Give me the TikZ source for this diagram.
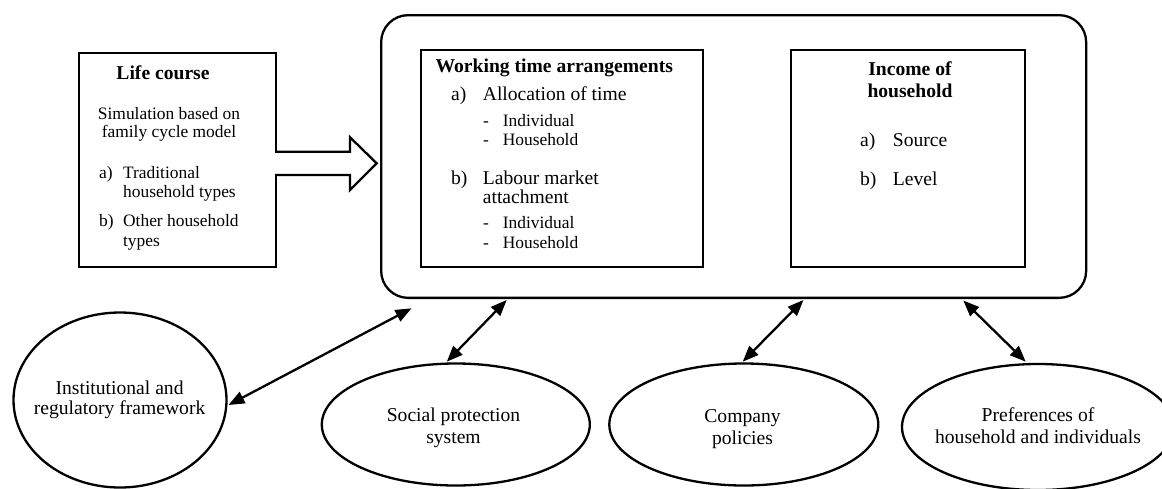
\documentclass[tikz,border=0pt]{standalone}
\usepackage{fontspec}
\setmainfont{Liberation Serif}
\usetikzlibrary{arrows.meta,shapes.geometric}
\begin{document}
\begin{tikzpicture}[x=1pt,y=-1pt,line width=2.3pt,
  big/.style={font=\fontsize{19.6}{21}\selectfont,inner sep=0pt},
  small/.style={font=\fontsize{17.4}{20.5}\selectfont,inner sep=0pt},
  head/.style={font=\fontsize{19.6}{23}\selectfont\bfseries,inner sep=0pt},
  lt/.style={anchor=base west},
  ct/.style={anchor=base},
  boxx/.style={draw,anchor=north west,inner sep=0pt},
  oval/.style={draw,ellipse,inner sep=0pt},
  dbl/.style={{Triangle[length=16pt,width=12.5pt]}-{Triangle[length=16pt,width=12.5pt]}}]
\useasboundingbox (0,0) rectangle (1162,488);

% main rounded frame
\node[boxx,rounded corners=27pt,minimum width=705pt,minimum height=282.7pt] (frame) at (380,14) {};

% life course box
\node[boxx,minimum width=197pt,minimum height=214pt] (life) at (78,52) {};
\node[head,ct] (lifeT) at (163,79) {Life course};
\node[small,ct] (lifeS1) at (169,119.3) {Simulation based on};
\node[small,ct] (lifeS2) at (169,137.9) {family cycle model};
\node[small,lt] (la) at (98,178.3) {a)};
\node[small,lt] (la1) at (122,178.3) {Traditional};
\node[small,lt] (la2) at (122,197.7) {household types};
\node[small,lt] (lb) at (98,226.7) {b)};
\node[small,lt] (lb1) at (122,226.7) {Other household};
\node[small,lt] (lb2) at (122,246.5) {types};

% block arrow
\fill[white] (273,151.7) -- (350,151.7) -- (350,137.3) -- (376.7,163.3) -- (350,190) -- (350,175) -- (273,175) -- cycle;
\draw[line join=miter] (275,151.7) -- (350,151.7) -- (350,137.3) -- (376.7,163.3) -- (350,190) -- (350,175) -- (275,175);

% working time box
\node[boxx,minimum width=282pt,minimum height=217pt] (work) at (420,49) {};
\node[head,lt] (workT) at (434.5,72.3) {Working time arrangements};
\node[big,lt] (wa) at (450,100) {a)};
\node[big,lt] (wa1) at (481.7,100) {Allocation of time};
\node[small,lt] (wd1) at (482,126.5) {-};
\node[small,lt] (wi1) at (501.7,126.5) {Individual};
\node[small,lt] (wd2) at (482,145.7) {-};
\node[small,lt] (wh1) at (501.7,145.7) {Household};
\node[big,lt] (wb) at (450,184.7) {b)};
\node[big,lt] (wb1) at (481.7,184.7) {Labour market};
\node[big,lt] (wb2) at (481.7,203) {attachment};
\node[small,lt] (wd3) at (482,228.5) {-};
\node[small,lt] (wi2) at (501.7,228.5) {Individual};
\node[small,lt] (wd4) at (482,248.2) {-};
\node[small,lt] (wh2) at (501.7,248.2) {Household};

% income box
\node[boxx,minimum width=234pt,minimum height=217pt] (inc) at (790,49) {};
\node[head,ct] (incT1) at (910,75.7) {Income of};
\node[head,ct] (incT2) at (910,97.3) {household};
\node[big,lt] (ia) at (859,146.7) {a)};
\node[big,lt] (ia1) at (891.7,146.7) {Source};
\node[big,lt] (ib) at (859,185.7) {b)};
\node[big,lt] (ib1) at (891.7,185.7) {Level};

% ellipses
\node[oval,minimum width=213pt,minimum height=175pt] (inst) at (120,400) {};
\node[big,ct] (instT1) at (119.6,394) {Institutional and};
\node[big,ct] (instT2) at (119.6,414.5) {regulatory framework};
\node[oval,minimum width=268pt,minimum height=122pt] (soc) at (455.8,424.5) {};
\node[big,ct] (socT1) at (453.5,421.7) {Social protection};
\node[big,ct] (socT2) at (453.5,443.3) {system};
\node[oval,minimum width=269pt,minimum height=122pt] (comp) at (743.8,424.5) {};
\node[big,ct] (compT1) at (742.5,422.5) {Company};
\node[big,ct] (compT2) at (742.5,444) {policies};
\node[oval,minimum width=272pt,minimum height=126pt] (pref) at (1038,427) {};
\node[big,ct] (prefT1) at (1038,421.7) {Preferences of};
\node[big,ct] (prefT2) at (1038,443.3) {household and individuals};

% connector ends
\coordinate (i1) at (228.5,405);
\coordinate (i2) at (411.5,308.3);
\coordinate (s1) at (446.8,361.7);
\coordinate (s2) at (506.7,300);
\coordinate (c1) at (742.7,361.7);
\coordinate (c2) at (803.5,300);
\coordinate (p1) at (963.3,300.5);
\coordinate (p2) at (1025.7,361.7);
\draw[dbl] (i1) -- (i2);
\draw[dbl] (s1) -- (s2);
\draw[dbl] (c1) -- (c2);
\draw[dbl] (p1) -- (p2);
\end{tikzpicture}
\end{document}
